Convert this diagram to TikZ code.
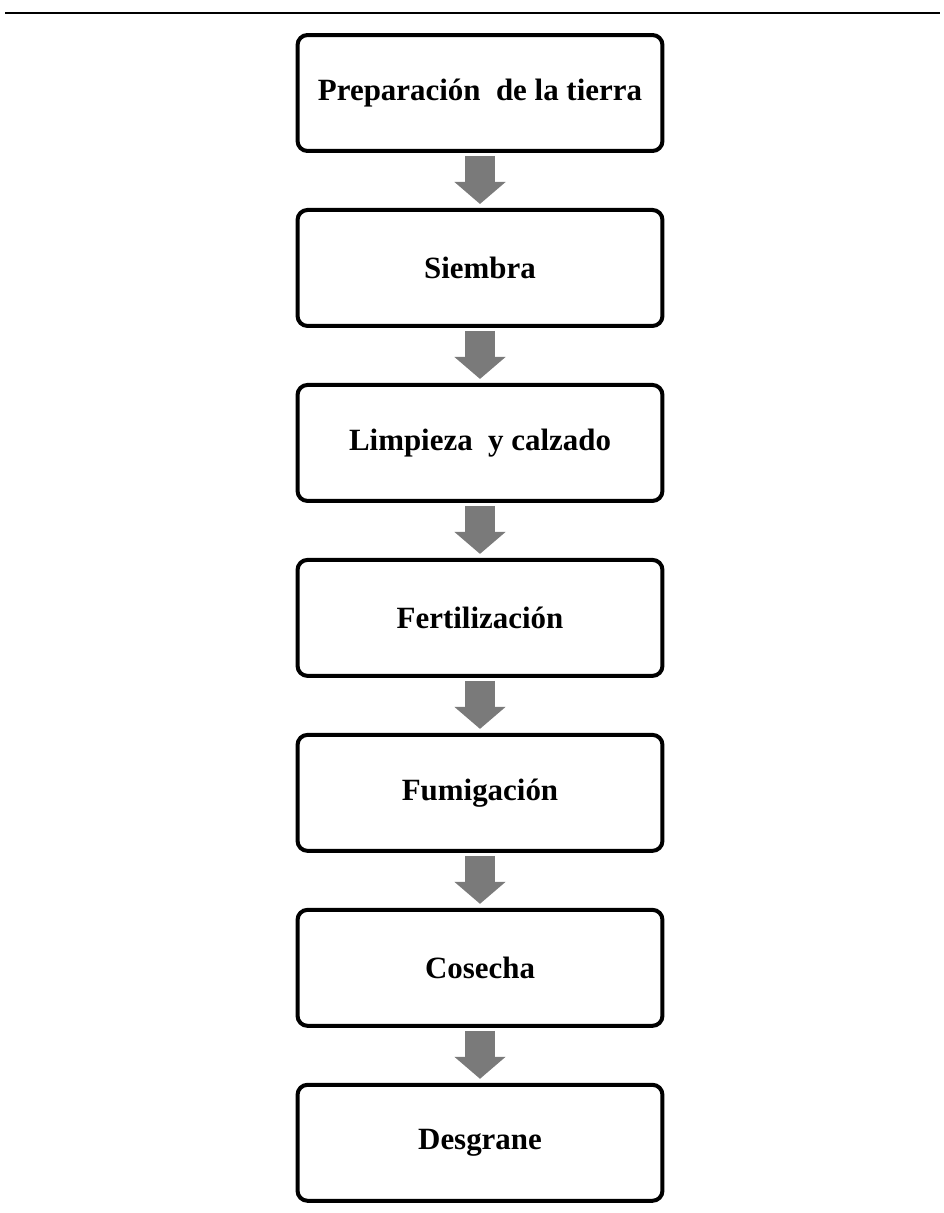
\documentclass[tikz,border=0pt]{standalone}
\usepackage{fontspec}
\setmainfont{Liberation Serif}
\usetikzlibrary{positioning, arrows.meta}

\begin{document}
\begin{tikzpicture}[x=0.02cm, y=-0.02cm,
    etapa/.style={draw, line width=0.08cm, rounded corners=0.2cm, fill=white,
        minimum width=7.3cm, minimum height=2.32cm,
        font=\fontsize{17.6}{20}\selectfont\bfseries},
    flecha/.style={line width=0.6cm, black!52,
        -{Triangle[width=1cm, length=0.44cm]},
        shorten <=0.06cm, shorten >=0.08cm},
    node distance=1.1cm]
    \useasboundingbox (0,0) rectangle (943,1213);

    % Top rule
    \draw[line width=0.04cm] (5,13) -- (940,13);

    % Stages
    \node[etapa] (prep) at (480,93) {Preparación\ \ de la tierra};
    \node[etapa, below=of prep] (siembra) {Siembra};
    \node[etapa, below=of siembra] (limpieza) {Limpieza\ \ y calzado};
    \node[etapa, below=of limpieza] (fert) {Fertilización};
    \node[etapa, below=of fert] (fumig) {Fumigación};
    \node[etapa, below=of fumig] (cosecha) {Cosecha};
    \node[etapa, below=of cosecha] (desgrane) {Desgrane};

    % Arrows between stages
    \draw[flecha] (prep) -- (siembra);
    \draw[flecha] (siembra) -- (limpieza);
    \draw[flecha] (limpieza) -- (fert);
    \draw[flecha] (fert) -- (fumig);
    \draw[flecha] (fumig) -- (cosecha);
    \draw[flecha] (cosecha) -- (desgrane);
\end{tikzpicture}
\end{document}
